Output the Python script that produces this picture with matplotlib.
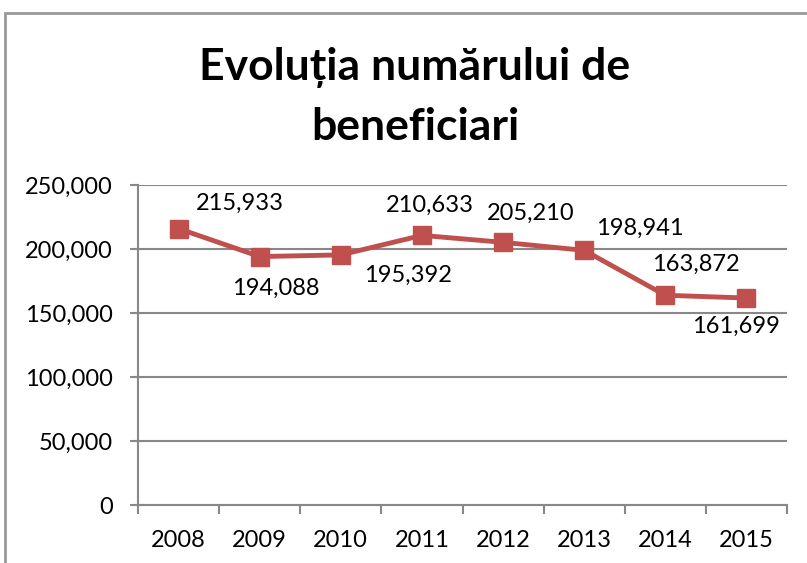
import matplotlib
matplotlib.use("Agg")
import matplotlib.pyplot as plt
from matplotlib.patches import Rectangle

years = ['2008', '2009', '2010', '2011', '2012', '2013', '2014', '2015']
beneficiari = [215933, 194088, 195392, 210633, 205210, 198941, 163872, 161699]
# label offsets in pixels (dx, dy) from each point
label_off = [(61, 25), (16, -32), (67, -20), (8, 30), (28, 29), (56, 22), (31, 31), (-10, -28)]

plt.rcParams['font.family'] = ['Lato', 'DejaVu Sans']
red = '#C0504D'
grid_col = '#888888'

fig = plt.figure(figsize=(8.07, 5.63), dpi=100)
ax = fig.add_axes([138/807, 1-505/563, (787-138)/807, (505-185)/563])

x = list(range(len(years)))
ax.plot(x, beneficiari, color=red, lw=3.5, marker='s', ms=13,
        mfc=red, mec=red, zorder=3)

for i, v in enumerate(beneficiari):
    ax.annotate(f'{v:,}', (i, v), xytext=label_off[i], textcoords='offset pixels',
                ha='center', va='center', fontsize=17, color='black')

ax.set_ylim(0, 250000)
ax.set_xlim(-0.5, len(years) - 0.5)
ax.set_yticks(range(0, 250001, 50000))
ax.set_yticklabels([f'{t:,}' for t in range(0, 250001, 50000)], fontsize=17)
ax.set_xticks(x)
ax.set_xticklabels(years, fontsize=17)
ax.set_xticks([i - 0.5 for i in range(len(years) + 1)], minor=True)
ax.tick_params(axis='x', which='major', length=0, pad=18)
ax.tick_params(axis='x', which='minor', length=6.5, color=grid_col, width=1.5)
ax.tick_params(axis='y', length=6, color=grid_col, width=1.5, pad=12)
ax.grid(axis='y', color=grid_col, lw=1.5)
ax.set_axisbelow(True)
for s in ['top', 'right']:
    ax.spines[s].set_visible(False)
for s in ['left', 'bottom']:
    ax.spines[s].set_color(grid_col)
    ax.spines[s].set_linewidth(1.5)

# title, one text per line
fig.text(415/807, 1-80/563, 'Evoluția numărului de', ha='center', va='baseline',
         fontsize=32, fontweight='bold')
fig.text(415/807, 1-140/563, 'beneficiari', ha='center', va='baseline',
         fontsize=32, fontweight='bold')

fig.patches.append(Rectangle((5/807, -0.1), 1.2, 1.1 - 13/563, transform=fig.transFigure,
                             fill=False, ec='#999999', lw=2))

fig.savefig('out.png', dpi=100)
